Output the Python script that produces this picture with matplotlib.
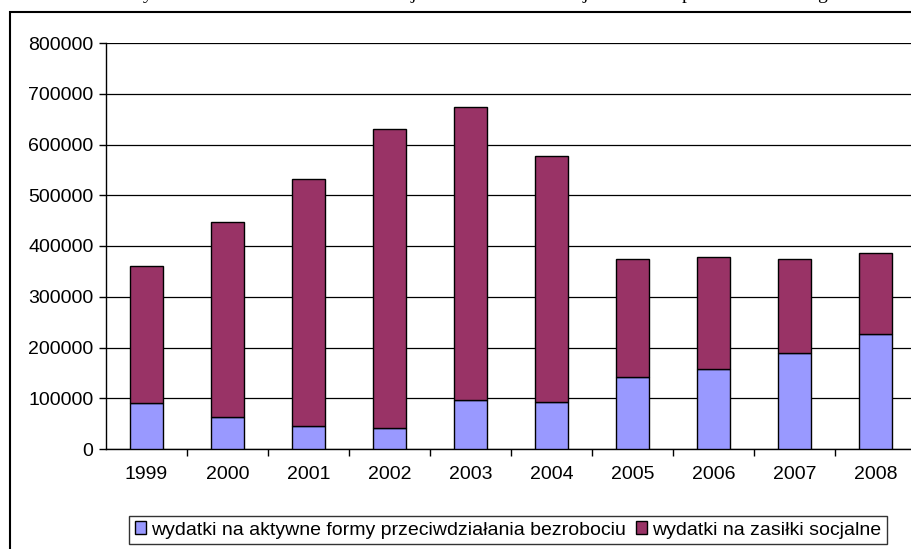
import matplotlib
matplotlib.use('Agg')
import matplotlib.pyplot as plt
from matplotlib.patches import Patch, Rectangle

years = ['1999', '2000', '2001', '2002', '2003', '2004', '2005', '2006', '2007', '2008']
aktywne = [90000, 63000, 45000, 42000, 96000, 93000, 142000, 157000, 190000, 226000]
razem = [361000, 448000, 532000, 630000, 673000, 577000, 375000, 379000, 375000, 387000]
zasilki = [r - a for r, a in zip(razem, aktywne)]
labels = ['wydatki na aktywne formy przeciwdziałania bezrobociu',
          'wydatki na zasiłki socjalne']
colors = ['#9999FF', '#993366']

plt.rcParams['font.family'] = ['Liberation Sans', 'DejaVu Sans']
fs = 14

fig = plt.figure(figsize=(9.11, 5.49), dpi=100)
W, H = 911.0, 549.0
ax = fig.add_axes([106 / W, 1 - 449 / H, 810 / W, 406 / H])

x = range(len(years))
ax.bar(x, aktywne, width=0.4, color=colors[0], edgecolor='black', linewidth=1, zorder=3)
ax.bar(x, zasilki, width=0.4, bottom=aktywne, color=colors[1], edgecolor='black',
       linewidth=1, zorder=3)

ax.set_xlim(-0.5, len(years) - 0.5)
ax.set_ylim(0, 800000)
ax.set_yticks(range(0, 800001, 100000))
ax.set_yticklabels([str(v) for v in range(0, 800001, 100000)], fontsize=fs)
ax.yaxis.grid(True, color='black', linewidth=0.9, zorder=0)
ax.set_axisbelow(True)

ax.set_xticks([i + 0.5 for i in range(len(years) - 1)])
ax.set_xticklabels([])
ax.set_xticks(list(x), minor=True)
ax.set_xticklabels(years, minor=True, fontsize=fs)
ax.tick_params(axis='x', which='minor', length=0, pad=12)
ax.tick_params(axis='x', which='major', length=5, width=1, direction='out')
ax.tick_params(axis='y', length=5, width=1, direction='out', pad=4)

for s in ['top', 'right']:
    ax.spines[s].set_visible(False)
ax.spines['left'].set_linewidth(1)
ax.spines['bottom'].set_linewidth(1)

# outer chart frame (cut off at right and bottom)
fig.patches.append(Rectangle((10 / W, -0.05), 1.0, 1 - 12 / H + 0.05,
                             transform=fig.transFigure, fill=False,
                             edgecolor='black', linewidth=1.5))

# descenders of the text line cut off above the chart
for px, ch in [(148, 'y'), (413, 'j'), (585, 'j'), (687, 'p'), (822, 'g')]:
    fig.text(px / W, 1 + 1 / H, ch, family='Liberation Serif', fontsize=14,
             ha='center', va='baseline')

handles = [Patch(facecolor=c, edgecolor='black', linewidth=1) for c in colors]
leg = fig.legend(handles, labels, loc='center', bbox_to_anchor=(508 / W, 19 / H),
                 ncol=2, fontsize=fs, frameon=True, fancybox=False,
                 edgecolor='black', handlelength=0.6, handleheight=0.6,
                 handletextpad=0.25, columnspacing=0.5, borderpad=0.3)
leg.get_frame().set_linewidth(1)

fig.savefig('out.png', dpi=100)
